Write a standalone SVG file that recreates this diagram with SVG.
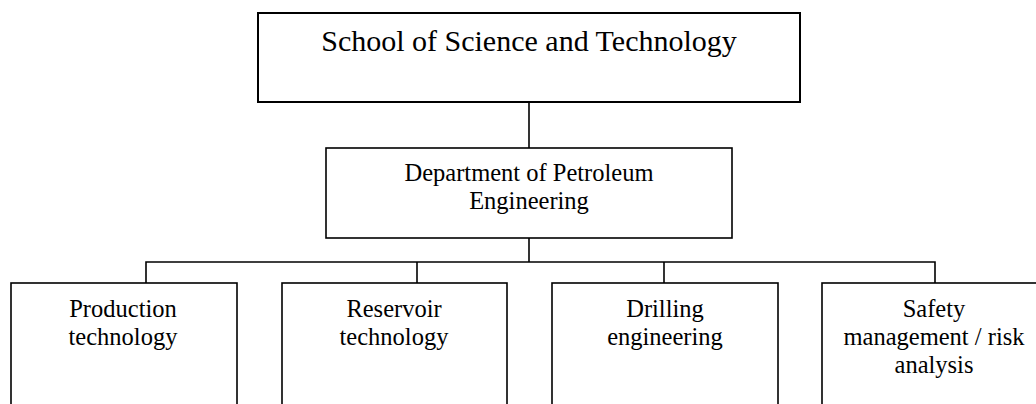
<svg xmlns="http://www.w3.org/2000/svg" width="1036" height="404" viewBox="0 0 1036 404">
<style>
.box{fill:#fff;stroke:#000;stroke-width:1.6}
.top{stroke-width:2}
.t{font-family:"Liberation Serif","Times New Roman",serif;fill:#000;text-anchor:middle}
.line{fill:none;stroke:#000;stroke-width:1.6}
</style>
<rect width="1036" height="404" fill="#fff"/>
<g id="connectors">
<line class="line" x1="529" y1="102" x2="529" y2="148"/>
<line class="line" x1="529" y1="238" x2="529" y2="262"/>
<polyline class="line" points="146,283 146,262 935,262 935,283"/>
<line class="line" x1="417" y1="262" x2="417" y2="283"/>
<line class="line" x1="664" y1="262" x2="664" y2="283"/>
</g>
<g id="school">
<rect class="box top" x="258" y="13" width="542" height="89"/>
<text class="t" x="529" y="51" font-size="30">School of Science and Technology</text>
</g>
<g id="department">
<rect class="box" x="326" y="148" width="406" height="90"/>
<text class="t" x="529" y="181" font-size="24.5">Department of Petroleum</text>
<text class="t" x="529" y="209" font-size="24.5">Engineering</text>
</g>
<g id="production">
<rect class="box" x="11" y="283" width="226" height="140"/>
<text class="t" x="123" y="317" font-size="24.5">Production</text>
<text class="t" x="123" y="345" font-size="24.5">technology</text>
</g>
<g id="reservoir">
<rect class="box" x="282" y="283" width="225" height="140"/>
<text class="t" x="394" y="317" font-size="24.5">Reservoir</text>
<text class="t" x="394" y="345" font-size="24.5">technology</text>
</g>
<g id="drilling">
<rect class="box" x="552" y="283" width="226" height="140"/>
<text class="t" x="665" y="317" font-size="24.5">Drilling</text>
<text class="t" x="665" y="345" font-size="24.5">engineering</text>
</g>
<g id="safety">
<rect class="box" x="822" y="283" width="226" height="140"/>
<text class="t" x="934" y="317" font-size="24.5">Safety</text>
<text class="t" x="934" y="345" font-size="24.5">management / risk</text>
<text class="t" x="934" y="373" font-size="24.5">analysis</text>
</g>
</svg>
